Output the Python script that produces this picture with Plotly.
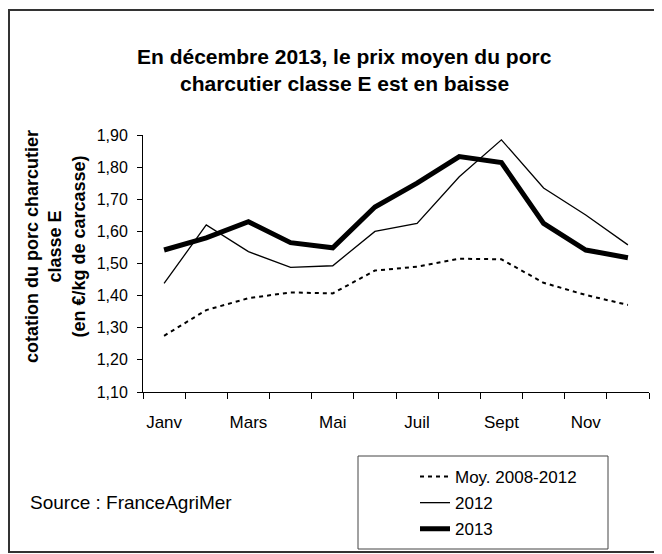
import plotly.graph_objects as go

months = ["Janv", "Févr", "Mars", "Avr", "Mai", "Juin", "Juil", "Août", "Sept", "Oct", "Nov", "Déc"]
moy_2008_2012 = [1.275, 1.355, 1.392, 1.41, 1.407, 1.478, 1.49, 1.515, 1.513, 1.44, 1.402, 1.371]
prix_2012 = [1.438, 1.62, 1.537, 1.488, 1.493, 1.60, 1.625, 1.77, 1.885, 1.735, 1.651, 1.558]
prix_2013 = [1.542, 1.58, 1.63, 1.565, 1.549, 1.676, 1.75, 1.833, 1.814, 1.625, 1.542, 1.518]
series_names = ["Moy. 2008-2012", "2012", "2013"]

SANS = "Liberation Sans, Arial, sans-serif"

# the page body has an 8px default margin, so the figure is drawn 8px in from the top-left
OFF = 8
W, H = 662 - OFF, 554 - OFF
L, R, T, B = 143 - OFF, 13, 135 - OFF, 162
pw, ph = W - L - R, H - T - B


def px(x):
    """page x (pixels) -> paper coordinate"""
    return (x - OFF - L) / pw


def py(y):
    """page y (pixels) -> paper coordinate"""
    return (H - B - (y - OFF)) / ph


idx = list(range(len(months)))

fig = go.Figure()
fig.add_trace(go.Scatter(x=idx, y=moy_2008_2012, mode="lines", name=series_names[0],
                         legendgroup="a",
                         line=dict(color="black", width=2, dash="4px,4px")))
fig.add_trace(go.Scatter(x=idx, y=prix_2012, mode="lines", name=series_names[1],
                         legendgroup="b",
                         line=dict(color="black", width=1.3)))
fig.add_trace(go.Scatter(x=idx, y=prix_2013, mode="lines", name=series_names[2],
                         legendgroup="c",
                         line=dict(color="black", width=5)))

fig.update_layout(
    width=W, height=H,
    margin=dict(l=L, r=R, t=T, b=B, pad=0, autoexpand=False),
    paper_bgcolor="white", plot_bgcolor="white",
    separators=", ",
    showlegend=True,
    legend=dict(x=px(415), y=py(459), xanchor="left", yanchor="top",
                bgcolor="rgba(0,0,0,0)", borderwidth=0,
                font=dict(family=SANS, size=17, color="black"),
                tracegroupgap=1),
    xaxis=dict(
        range=[-0.5, len(months) - 0.5],
        tickmode="array", tickvals=idx[::2], ticktext=months[::2],
        ticks="outside", ticklen=0,
        ticklabelstandoff=15,
        minor=dict(tick0=-0.5, dtick=1, ticks="outside", ticklen=6, tickcolor="black", tickwidth=1),
        showline=True, linecolor="black", linewidth=1,
        showgrid=False, zeroline=False,
        tickfont=dict(family=SANS, size=17, color="black"),
        fixedrange=True,
    ),
    yaxis=dict(
        range=[1.10, 1.90], dtick=0.1, tick0=1.10, tickformat=".2f",
        ticks="outside", ticklen=5, tickcolor="black",
        ticklabelstandoff=6,
        showline=True, linecolor="black", linewidth=1,
        showgrid=False, zeroline=False,
        tickfont=dict(family=SANS, size=16, color="black"),
        fixedrange=True,
    ),
    shapes=[
        dict(type="rect", xref="paper", yref="paper",
             x0=px(9), x1=px(655), y0=py(552), y1=py(10),
             line=dict(color="#333333", width=2), fillcolor="rgba(0,0,0,0)", layer="below"),
        dict(type="rect", xref="paper", yref="paper",
             x0=px(358), x1=px(608), y0=py(549), y1=py(456),
             line=dict(color="#444444", width=1), fillcolor="rgba(0,0,0,0)"),
    ],
    annotations=[
        dict(text="<b>En décembre 2013, le prix moyen du porc</b>", xref="paper", yref="paper",
             x=px(344), y=py(57), xanchor="center", yanchor="middle", showarrow=False,
             font=dict(family=SANS, size=21, color="black")),
        dict(text="<b>charcutier classe E est en baisse</b>", xref="paper", yref="paper",
             x=px(344), y=py(83), xanchor="center", yanchor="middle", showarrow=False,
             font=dict(family=SANS, size=21, color="black")),
        dict(text="<b>cotation du porc charcutier<br>classe E<br>(en €/kg de carcasse)</b>",
             xref="paper", yref="paper", x=px(55), y=py(247), xanchor="center", yanchor="middle",
             textangle=-90, showarrow=False, align="center",
             font=dict(family=SANS, size=18, color="black")),
        dict(text="Source : FranceAgriMer", xref="paper", yref="paper",
             x=px(28), y=py(502), xanchor="left", yanchor="middle", showarrow=False,
             font=dict(family=SANS, size=19, color="black")),
    ],
)

fig.write_html("out.html")
